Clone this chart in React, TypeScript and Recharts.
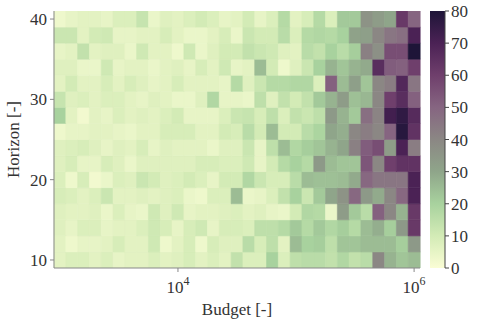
import { BarChart, Bar, XAxis, YAxis, Cell } from 'recharts';

// budget as log10 exponent, one column per value
const budgetExp = [
  3.0, 3.1, 3.2, 3.3, 3.4, 3.5, 3.6, 3.7, 3.8, 3.9,
  4.0, 4.1, 4.2, 4.3, 4.4, 4.5, 4.6, 4.7, 4.8, 4.9,
  5.0, 5.1, 5.2, 5.3, 5.4, 5.5, 5.6, 5.7, 5.8, 5.9, 6.0,
];
const horizons = [10, 12, 14, 16, 18, 20, 22, 24, 26, 28, 30, 32, 34, 36, 38, 40];
const xTickExps = [4, 6];
const yTicks = [10, 20, 30, 40];
const cbTicks = [0, 10, 20, 30, 40, 50, 60, 70, 80];

// one row per horizon (10 -> 40), one value per budget column
const row10 = [6, 8, 8, 6, 8, 5, 6, 6, 8, 6, 7, 9, 6, 8, 6, 14, 8, 8, 20, 8, 15, 16, 16, 14, 18, 14, 16, 40, 27, 23, 25];
const row12 = [6, 3, 5, 5, 6, 9, 6, 6, 11, 3, 6, 9, 3, 9, 7, 7, 16, 9, 15, 6, 25, 20, 21, 15, 23, 23, 25, 25, 25, 21, 34];
const row14 = [7, 5, 8, 8, 5, 6, 6, 8, 11, 9, 5, 9, 11, 5, 9, 9, 8, 15, 15, 17, 22, 17, 22, 18, 21, 17, 25, 28, 21, 34, 62];
const row16 = [7, 6, 6, 7, 4, 8, 5, 4, 11, 7, 11, 5, 6, 6, 7, 8, 6, 7, 5, 4, 10, 18, 17, 4, 33, 22, 16, 51, 40, 27, 62];
const row18 = [9, 8, 6, 8, 12, 6, 6, 7, 6, 7, 8, 4, 3, 8, 8, 25, 4, 5, 8, 14, 20, 12, 22, 30, 36, 49, 34, 29, 40, 49, 70];
const row20 = [8, 3, 9, 2, 4, 8, 7, 12, 10, 7, 8, 10, 8, 5, 10, 10, 18, 12, 9, 9, 16, 25, 24, 24, 25, 29, 49, 45, 45, 45, 70];
const row22 = [7, 9, 5, 5, 9, 7, 4, 7, 7, 7, 7, 7, 9, 9, 8, 8, 11, 5, 10, 17, 20, 17, 34, 25, 23, 23, 54, 40, 60, 64, 64];
const row24 = [7, 8, 9, 7, 5, 7, 6, 9, 5, 7, 6, 6, 6, 4, 7, 7, 12, 5, 15, 25, 18, 21, 23, 27, 30, 42, 52, 56, 33, 70, 43];
const row26 = [3, 5, 5, 6, 6, 5, 4, 6, 6, 9, 9, 9, 6, 6, 10, 9, 16, 10, 25, 10, 10, 16, 19, 30, 28, 40, 43, 40, 50, 78, 64];
const row28 = [20, 6, 2, 6, 5, 8, 6, 7, 6, 8, 10, 5, 5, 5, 8, 12, 13, 9, 15, 8, 14, 12, 15, 34, 27, 22, 47, 41, 72, 76, 67];
const row30 = [13, 7, 8, 6, 8, 8, 6, 5, 7, 6, 4, 4, 7, 18, 5, 5, 4, 15, 7, 14, 10, 14, 22, 27, 33, 24, 26, 40, 60, 66, 51];
const row32 = [6, 10, 6, 6, 9, 6, 9, 7, 5, 6, 9, 6, 6, 6, 5, 17, 7, 12, 17, 17, 18, 18, 8, 51, 25, 32, 23, 40, 43, 68, 45];
const row34 = [7, 7, 4, 4, 11, 5, 6, 6, 4, 6, 7, 5, 9, 6, 11, 5, 6, 25, 10, 3, 7, 12, 20, 27, 23, 27, 29, 66, 52, 51, 60];
const row36 = [5, 6, 14, 6, 7, 7, 4, 11, 6, 6, 3, 11, 4, 7, 10, 10, 14, 12, 11, 7, 6, 16, 14, 20, 16, 21, 42, 37, 56, 56, 80];
const row38 = [12, 12, 6, 10, 11, 5, 5, 6, 6, 9, 6, 4, 4, 6, 9, 4, 12, 10, 10, 16, 8, 17, 18, 17, 20, 31, 32, 40, 45, 47, 70];
const row40 = [3, 5, 6, 6, 5, 8, 8, 13, 4, 7, 6, 8, 10, 8, 5, 6, 10, 5, 8, 17, 6, 9, 17, 8, 22, 22, 36, 33, 30, 62, 50];

const heat = [row10, row12, row14, row16, row18, row20, row22, row24, row26, row28, row30, row32, row34, row36, row38, row40];

const cmap: [number, string][] = [
  [0, '#fafdd5'], [10, '#d3ebb6'], [20, '#a8d29e'], [30, '#8fa58a'], [40, '#8b8784'],
  [50, '#866581'], [60, '#6f3f6c'], [70, '#4b2255'], [80, '#1e1538'],
];
const vMax = 80;

function hex(c: string) {
  return [1, 3, 5].map((i) => parseInt(c.slice(i, i + 2), 16));
}

function colorFor(v: number) {
  const t = Math.max(0, Math.min(vMax, v));
  for (let i = 1; i < cmap.length; i++) {
    const [v1, c1] = cmap[i];
    if (t <= v1) {
      const [v0, c0] = cmap[i - 1];
      const f = (t - v0) / (v1 - v0);
      const a = hex(c0), b = hex(c1);
      const rgb = a.map((x, k) => Math.round(x + (b[k] - x) * f));
      return `rgb(${rgb.join(',')})`;
    }
  }
  return cmap[cmap.length - 1][1];
}

const step = horizons[1] - horizons[0];
const yMin = horizons[0] - step / 2;
const yMax = horizons[horizons.length - 1] + step / 2;

const data = budgetExp.map((exp) => {
  const d: Record<string, number> = { exp, base: yMin };
  horizons.forEach((h) => { d['h' + h] = step; });
  return d;
});

const FONT = "'Liberation Serif', 'DejaVu Serif', serif";
const TXT = '#333';
const AX = '#888';
const textStyle = { fontFamily: FONT, fontSize: 17, fill: TXT };

const BudgetTick = (props: any) => {
  const { x, y, payload } = props;
  if (!xTickExps.includes(payload.value)) return <g />;
  return (
    <g>
      <line x1={x} x2={x} y1={y - 6} y2={y - 2} stroke={AX} />
      <text x={x} y={y + 19} textAnchor="middle" style={textStyle}>
        10<tspan dy={-8} style={{ fontSize: 12 }}>{payload.value}</tspan>
      </text>
    </g>
  );
};

const LeftTick = (props: any) => {
  const { x, y, payload } = props;
  return (
    <text x={x} y={y + 6} textAnchor="end" fontFamily="Liberation Serif" style={textStyle}>
      {payload.value}
    </text>
  );
};

const RightTick = (props: any) => {
  const { x, y, payload } = props;
  return (
    <text x={x} y={y + 6} textAnchor="start" fontFamily="Liberation Serif" style={textStyle}>
      {payload.value}
    </text>
  );
};

export default function App() {
  return (
    <div className="hm-root" style={{ position: 'absolute', left: 0, top: 0, width: 480, height: 320, fontFamily: FONT, background: '#fff' }}>
      <style>{`.hm-root svg text, .hm-root svg tspan { font-family: 'Liberation Serif', 'DejaVu Serif', serif !important; }`}</style>
      <BarChart
        width={480}
        height={320}
        data={data}
        margin={{ top: 11, right: 60, bottom: 22, left: 0 }}
        barCategoryGap={0}
        barGap={0}
        style={{ position: 'absolute', left: 0, top: 0, fontFamily: FONT }}
      >
        <XAxis
          dataKey="exp"
          type="category"
          interval={0}
          height={30}
          tickLine={false}
          tickSize={4}
          tickMargin={2}
          axisLine={{ stroke: AX }}
          tick={BudgetTick}
          label={{
            content: ({ viewBox }: any) => (
              <text x={viewBox.x + viewBox.width / 2} y={viewBox.y + 47} textAnchor="middle" style={textStyle}>
                Budget [-]
              </text>
            ),
          }}
        />
        <YAxis
          type="number"
          domain={[yMin, yMax]}
          allowDataOverflow
          ticks={yTicks}
          width={54}
          tickSize={4}
          tickMargin={3}
          axisLine={{ stroke: AX }}
          tickLine={{ stroke: AX }}
          tick={LeftTick}
          label={{
            content: ({ viewBox }: any) => {
              const cx = viewBox.x + 19;
              const cy = viewBox.y + viewBox.height / 2;
              return (
                <text x={cx} y={cy} transform={`rotate(-90, ${cx}, ${cy})`} textAnchor="middle" fontFamily="Liberation Serif" style={textStyle}>
                  Horizon [-]
                </text>
              );
            },
          }}
        />
        <Bar dataKey="base" stackId="s" fill="none" isAnimationActive={false} />
        {horizons.map((h, r) => (
          <Bar key={h} dataKey={'h' + h} stackId="s" isAnimationActive={false}>
            {budgetExp.map((_, c) => {
              const col = colorFor(heat[r][c]);
              return <Cell key={c} fill={col} stroke={col} strokeWidth={0.6} />;
            })}
          </Bar>
        ))}
      </BarChart>

      <BarChart
        width={50}
        height={320}
        data={[{ name: 'cb', top: vMax }]}
        margin={{ top: 11, right: 0, bottom: 52, left: 0 }}
        barCategoryGap={0}
        style={{ position: 'absolute', left: 430, top: 0, fontFamily: FONT }}
      >
        <defs>
          <linearGradient id="cbGrad" x1="0" y1="1" x2="0" y2="0">
            {cmap.map(([v, c]) => (
              <stop key={v} offset={v / vMax} stopColor={c} />
            ))}
          </linearGradient>
        </defs>
        <XAxis dataKey="name" hide />
        <YAxis
          orientation="right"
          type="number"
          domain={[0, vMax]}
          ticks={cbTicks}
          width={35}
          tickSize={4}
          tickMargin={2}
          axisLine={{ stroke: '#444' }}
          tickLine={{ stroke: '#444' }}
          tick={RightTick}
        />
        <Bar dataKey="top" fill="url(#cbGrad)" isAnimationActive={false} />
      </BarChart>
    </div>
  );
}
